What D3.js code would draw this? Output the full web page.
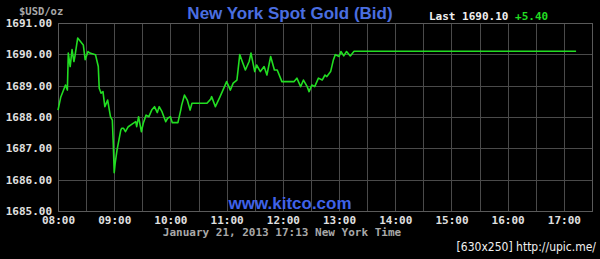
<!DOCTYPE html>
<html>
<head>
<meta charset="utf-8">
<script src="https://cdn.jsdelivr.net/npm/d3@7"></script>
<style>
  body { margin: 0; background: #000; }
  svg { display: block; }
</style>
</head>
<body>
<script>
// Data
const times = ["08:00","08:03","08:08","08:10","08:11","08:13","08:15","08:17","08:18","08:21",
    "08:24","08:27","08:29","08:32","08:34","08:40","08:43","08:44","08:46","08:48",
    "08:50","08:53","08:56","08:58","08:59","09:00","09:01","09:03","09:05","09:07",
    "09:08","09:10","09:12","09:15","09:19","09:23","09:24","09:26","09:29","09:31",
    "09:34","09:37","09:40","09:43","09:46","09:48","09:51","09:55","09:57","10:00",
    "10:02","10:08","10:11","10:12","10:15","10:18","10:21","10:23","10:39","10:43",
    "10:44","10:48","10:53","10:57","11:00","11:04","11:07","11:11","11:14","11:16",
    "11:20","11:24","11:26","11:30","11:32","11:36","11:40","11:43","11:47","11:51",
    "11:54","11:59","12:12","12:15","12:19","12:22","12:26","12:28","12:31","12:34",
    "12:38","12:42","12:45","12:47","12:51","12:54","12:56","13:00","13:02","13:05",
    "13:08","13:12","13:16","17:13"]
const prices = [1688.22,1688.64,1689.02,1688.86,1690.04,1689.61,1690.15,1689.77,1689.93,1690.52,
    1690.41,1690.30,1689.83,1690.09,1690.04,1689.99,1689.61,1688.92,1688.76,1688.81,
    1688.33,1688.54,1688.01,1687.90,1687.16,1686.22,1686.52,1686.94,1687.26,1687.58,
    1687.64,1687.64,1687.53,1687.69,1687.77,1687.85,1687.69,1688.01,1687.53,1687.80,
    1688.06,1688.01,1688.22,1688.33,1688.14,1688.33,1688.17,1687.85,1687.96,1688.01,
    1687.82,1687.82,1688.22,1688.38,1688.70,1688.54,1688.22,1688.44,1688.44,1688.57,
    1688.65,1688.33,1688.65,1688.92,1689.13,1688.86,1689.08,1689.18,1689.99,1689.83,
    1689.50,1689.77,1690.04,1689.45,1689.66,1689.45,1689.61,1689.34,1689.93,1689.50,
    1689.50,1689.13,1689.13,1689.24,1688.97,1689.18,1688.97,1688.81,1689.02,1688.97,
    1689.24,1689.18,1689.34,1689.29,1689.45,1689.83,1689.99,1689.93,1690.09,1689.95,
    1690.09,1689.95,1690.10,1690.10]
const yTicks = [1685, 1686, 1687, 1688, 1689, 1690, 1691]
const xTickLabels = ["08:00","09:00","10:00","11:00","12:00","13:00","14:00","15:00","16:00","17:00"]
const lastPrice = "1690.10"
const change = "+5.40"

// Main
let main = () => {
    const width = 600
    const height = 259
    const left = 58, right = 592, top = 23, bottom = 211
    const mono = "'DejaVu Sans Mono', monospace"
    const parse = d3.timeParse("%H:%M")

    const data = times.map((t, i) => ({ t: parse(t), v: prices[i] }))

    let svg = d3.select("body")
        .append("svg")
        .attr("width", width)
        .attr("height", height)
        .style("background", "#000")

    let xScale = d3.scaleTime()
        .domain([parse("08:00"), parse("17:30")])
        .range([left, right])
    let yScale = d3.scaleLinear()
        .domain([1685, 1691])
        .range([bottom, top])

    // Grid lines every half hour
    const halfHours = d3.timeMinute.every(30).range(parse("08:00"), parse("17:31"))
    svg.selectAll(".vgrid")
        .data(halfHours).enter().append("line")
        .attr("class", "vgrid")
        .attr("x1", d => Math.round(xScale(d)) + 0.5)
        .attr("x2", d => Math.round(xScale(d)) + 0.5)
        .attr("y1", top)
        .attr("y2", bottom)
        .attr("stroke", "#4a4a4a")
    svg.selectAll(".hgrid")
        .data(yTicks).enter().append("line")
        .attr("class", "hgrid")
        .attr("x1", left)
        .attr("x2", right)
        .attr("y1", d => Math.round(yScale(d)) + 0.5)
        .attr("y2", d => Math.round(yScale(d)) + 0.5)
        .attr("stroke", "#4a4a4a")

    // Border
    svg.append("rect")
        .attr("x", left + 0.5)
        .attr("y", top + 0.5)
        .attr("width", right - left)
        .attr("height", bottom - top)
        .attr("fill", "none")
        .attr("stroke", "#5a5a5a")

    // Y axis labels
    let yAxis = d3.axisLeft(yScale)
        .tickValues(yTicks)
        .tickFormat(d3.format(".2f"))
        .tickSize(0)
        .tickPadding(6)
    let gy = svg.append("g")
        .attr("transform", `translate(${left}, 0)`)
        .call(yAxis)
    gy.select(".domain").remove()
    gy.selectAll("text")
        .attr("fill", "#e0e0e0")
        .style("font-family", mono)
        .style("font-size", "11px")
        .style("font-weight", "bold")

    // X axis labels
    let xAxis = d3.axisBottom(xScale)
        .tickValues(xTickLabels.map(parse))
        .tickFormat(d3.timeFormat("%H:%M"))
        .tickSize(0)
        .tickPadding(5)
    let gx = svg.append("g")
        .attr("transform", `translate(0, ${bottom})`)
        .call(xAxis)
    gx.select(".domain").remove()
    gx.selectAll("text")
        .attr("fill", "#e0e0e0")
        .style("font-family", mono)
        .style("font-size", "11px")
        .style("font-weight", "bold")

    // Price line
    svg.append("path")
        .datum(data)
        .attr("d", d3.line()
            .x(d => xScale(d.t))
            .y(d => yScale(d.v))
        )
        .attr("fill", "none")
        .attr("stroke", "#22dd22")
        .attr("stroke-width", 1.6)
        .attr("stroke-linejoin", "round")

    // Title
    svg.append("text")
        .attr("x", 290)
        .attr("y", 19)
        .attr("text-anchor", "middle")
        .style("font-family", "'Liberation Sans', Arial, sans-serif")
        .style("font-size", "17px")
        .style("font-weight", "bold")
        .attr("fill", "#4a6ee0")
        .text("New York Spot Gold (Bid)")

    // Units
    svg.append("text")
        .attr("x", 19)
        .attr("y", 15)
        .style("font-family", mono)
        .style("font-size", "10.5px")
        .style("font-weight", "bold")
        .attr("fill", "#a8a8a8")
        .text("$USD/oz")

    // Last price
    let last = svg.append("text")
        .attr("x", 429)
        .attr("y", 20)
        .style("font-family", mono)
        .style("font-size", "11px")
        .style("font-weight", "bold")
    last.append("tspan").attr("fill", "#f0f0f0").text(`Last ${lastPrice} `)
    last.append("tspan").attr("fill", "#22dd22").text(change)

    // Watermark
    svg.append("text")
        .attr("x", 290)
        .attr("y", 209)
        .attr("text-anchor", "middle")
        .style("font-family", "'Liberation Sans', Arial, sans-serif")
        .style("font-size", "17px")
        .style("font-weight", "bold")
        .attr("fill", "#3f62e8")
        .text("www.kitco.com")

    // Date line
    svg.append("text")
        .attr("x", 282)
        .attr("y", 236)
        .attr("text-anchor", "middle")
        .style("font-family", mono)
        .style("font-size", "11px")
        .style("font-weight", "bold")
        .attr("fill", "#a8a8a8")
        .text("January 21, 2013 17:13 New York Time")

    // Upload tag
    svg.append("text")
        .attr("x", 596)
        .attr("y", 251)
        .attr("text-anchor", "end")
        .style("font-family", "'DejaVu Sans Condensed', 'DejaVu Sans', sans-serif")
        .style("font-size", "12px")
        .attr("fill", "#f0f0f0")
        .text("[630x250] http://upic.me/")
}

main()
</script>
</body>
</html>
